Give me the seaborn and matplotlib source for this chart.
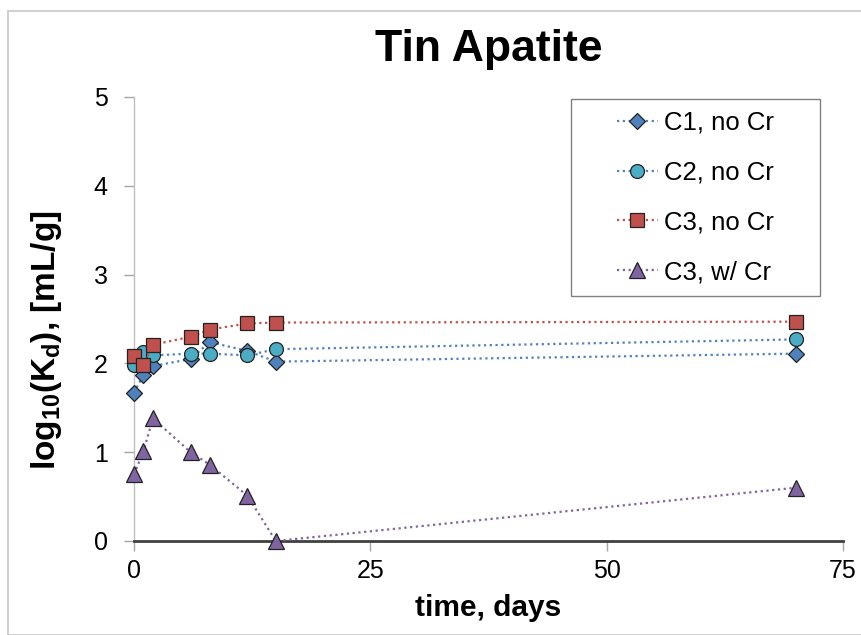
import numpy as np
import pandas as pd
import matplotlib
matplotlib.use('Agg')
import matplotlib.pyplot as plt
from matplotlib.patches import Rectangle
import seaborn as sns

sns.set_style('white')
plt.rcParams['font.family'] = ['Liberation Sans', 'DejaVu Sans']
plt.rcParams['mathtext.fontset'] = 'custom'
plt.rcParams['mathtext.rm'] = 'Liberation Sans:bold'
plt.rcParams['mathtext.default'] = 'regular'
plt.rcParams['text.color'] = 'black'
plt.rcParams['axes.labelcolor'] = 'black'

# data
days = [0, 1, 2, 6, 8, 12, 15, 70]
c1_no_cr = [1.67, 1.87, 1.97, 2.05, 2.24, 2.14, 2.02, 2.11]
c2_no_cr = [1.98, 2.13, 2.09, 2.11, 2.11, 2.09, 2.16, 2.27]
c3_no_cr = [2.08, 1.98, 2.21, 2.30, 2.38, 2.45, 2.46, 2.47]
c3_w_cr = [0.75, 1.01, 1.38, 1.00, 0.86, 0.51, 0.00, 0.60]

series = ['C1, no Cr', 'C2, no Cr', 'C3, no Cr', 'C3, w/ Cr']
values = [c1_no_cr, c2_no_cr, c3_no_cr, c3_w_cr]

df = pd.DataFrame({
    'day': days * len(series),
    'logkd': sum(values, []),
    'series': np.repeat(series, len(days)),
})

fills = ['#4F81BD', '#4BACC6', '#C0504D', '#8064A2']
lines = ['#4F81BD', '#4F81BD', '#C0504D', '#8064A2']
marks = ['D', 'o', 's', '^']
msizes = [8, 10, 10, 11]

fig = plt.figure(figsize=(8.62, 6.35), dpi=100)
ax = fig.add_axes([134/862, 1-541/635, (843-134)/862, (541-97)/635])

for s, fc, lc, m, ms in zip(series, fills, lines, marks, msizes):
    sns.lineplot(data=df[df['series'] == s], x='day', y='logkd', ax=ax,
                 color=lc, linestyle=(0, (1, 1.6)), linewidth=1.6,
                 marker=m, markersize=ms, markerfacecolor=fc,
                 markeredgecolor='#222222', markeredgewidth=0.9,
                 label=s, clip_on=False, zorder=3)

ax.set_xlim(0, 75)
ax.set_ylim(0, 5)
ax.set_xticks([0, 25, 50, 75])
ax.set_yticks([0, 1, 2, 3, 4, 5])
ax.tick_params(axis='both', labelsize=18, colors='#A6A6A6', labelcolor='black',
               length=7, width=1, direction='out', left=True, bottom=True)
ax.tick_params(axis='y', pad=12)
ax.tick_params(axis='x', pad=6)

for side in ['top', 'right']:
    ax.spines[side].set_visible(False)
ax.spines['left'].set_color('#BFBFBF')
ax.spines['left'].set_linewidth(1)
ax.spines['bottom'].set_color('#404040')
ax.spines['bottom'].set_linewidth(2)

ax.set_title('Tin Apatite', fontsize=32, fontweight='bold', pad=26, color='black')
ax.set_xlabel('time, days', fontsize=21.5, fontweight='bold')
ax.xaxis.set_label_coords(0.5, -(608 - 541) / 444, transform=ax.transAxes)
ax.xaxis.label.set_va('center')
ax.set_ylabel('log$_{10}$(K$_d$), [mL/g]', fontsize=24, fontweight='bold')
ax.yaxis.set_label_coords(-(134 - 47) / 709, (541 - 340) / 444, transform=ax.transAxes)
ax.yaxis.label.set_va('center')

# legend box drawn separately so the entries can sit centred in it
lx0, lx1, ly0, ly1 = 571, 820, 99, 296
box = (lx0/862, 1 - ly1/635, (lx1 - lx0)/862, (ly1 - ly0)/635)
leg = ax.legend(loc='center', bbox_to_anchor=box, bbox_transform=fig.transFigure,
                fontsize=18.5, frameon=False, labelspacing=1.0,
                handlelength=1.6, handletextpad=0.25, borderaxespad=0)
leg.set_zorder(6)
ax.add_patch(Rectangle(box[:2], box[2], box[3], transform=fig.transFigure,
                       facecolor='white', edgecolor='#808080', linewidth=1,
                       clip_on=False, zorder=5))

fig.patches.append(Rectangle((8/862, 0), 1, 1 - 11/635, transform=fig.transFigure,
                             fill=False, edgecolor='#C8C8C8', linewidth=1.2))

fig.savefig('out.png', dpi=100)
